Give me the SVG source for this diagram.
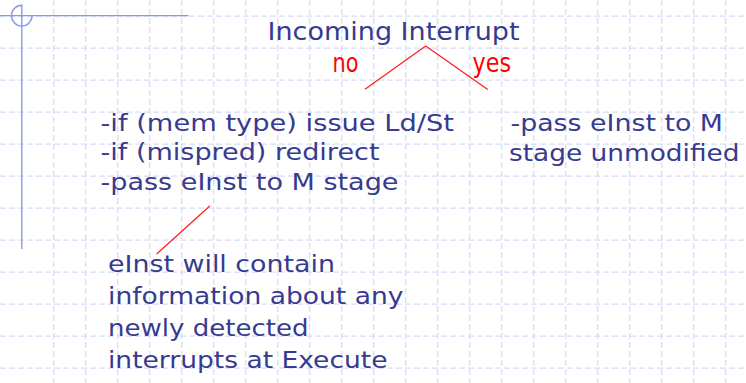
<svg xmlns="http://www.w3.org/2000/svg" width="746" height="383" viewBox="0 0 746 383">
  <defs>
    <style>
      .grid line { stroke: #d6ddf9; stroke-width: 1.3; stroke-dasharray: 6 3; }
      .frame { stroke: #8798ef; stroke-width: 1.4; fill: none; }
      .body { font-family: "DejaVu Sans", Verdana, sans-serif; font-size: 23.5px; fill: #363b8f; }
      .title { font-size: 24px; }
      .tag { font-family: "DejaVu Sans", "Comic Sans MS", sans-serif; font-size: 26.5px; fill: #ff0000; }
      .connectors line { stroke: #ff1a1a; stroke-width: 1.2; }
    </style>
  </defs>

  <rect width="746" height="383" fill="#ffffff"/>

  <!-- background grid -->
  <g class="grid">
    <line x1="0" y1="16.2" x2="746" y2="16.2"/>
    <line x1="0" y1="48.2" x2="746" y2="48.2"/>
    <line x1="0" y1="80.2" x2="746" y2="80.2"/>
    <line x1="0" y1="112.2" x2="746" y2="112.2"/>
    <line x1="0" y1="144.2" x2="746" y2="144.2"/>
    <line x1="0" y1="176.2" x2="746" y2="176.2"/>
    <line x1="0" y1="208.2" x2="746" y2="208.2"/>
    <line x1="0" y1="240.2" x2="746" y2="240.2"/>
    <line x1="0" y1="272.2" x2="746" y2="272.2"/>
    <line x1="0" y1="304.2" x2="746" y2="304.2"/>
    <line x1="0" y1="336.2" x2="746" y2="336.2"/>
    <line x1="0" y1="368.2" x2="746" y2="368.2"/>
    <line x1="53.7" y1="0" x2="53.7" y2="383"/>
    <line x1="85.7" y1="0" x2="85.7" y2="383"/>
    <line x1="117.7" y1="0" x2="117.7" y2="383"/>
    <line x1="149.7" y1="0" x2="149.7" y2="383"/>
    <line x1="181.7" y1="0" x2="181.7" y2="383"/>
    <line x1="213.7" y1="0" x2="213.7" y2="383"/>
    <line x1="245.7" y1="0" x2="245.7" y2="383"/>
    <line x1="277.7" y1="0" x2="277.7" y2="383"/>
    <line x1="309.7" y1="0" x2="309.7" y2="383"/>
    <line x1="341.7" y1="0" x2="341.7" y2="383"/>
    <line x1="373.7" y1="0" x2="373.7" y2="383"/>
    <line x1="405.7" y1="0" x2="405.7" y2="383"/>
    <line x1="437.7" y1="0" x2="437.7" y2="383"/>
    <line x1="469.7" y1="0" x2="469.7" y2="383"/>
    <line x1="501.7" y1="0" x2="501.7" y2="383"/>
    <line x1="533.7" y1="0" x2="533.7" y2="383"/>
    <line x1="565.7" y1="0" x2="565.7" y2="383"/>
    <line x1="597.7" y1="0" x2="597.7" y2="383"/>
    <line x1="629.7" y1="0" x2="629.7" y2="383"/>
    <line x1="661.7" y1="0" x2="661.7" y2="383"/>
    <line x1="693.7" y1="0" x2="693.7" y2="383"/>
    <line x1="725.7" y1="0" x2="725.7" y2="383"/>
  </g>

  <!-- corner crosshair frame -->
  <g id="frame">
    <line class="frame" x1="0" y1="15.6" x2="188.5" y2="15.6"/>
    <line class="frame" x1="21.8" y1="4.5" x2="21.8" y2="249"/>
    <path class="frame" d="M21.8,5.3 A10.3,10.3 0 1,0 32.1,15.6"/>
  </g>

  <!-- connectors -->
  <g class="connectors">
    <line x1="425.7" y1="46" x2="365" y2="89.3"/>
    <line x1="425.7" y1="46" x2="487.7" y2="89.6"/>
    <line x1="210" y1="205.7" x2="156.7" y2="254"/>
  </g>

  <g id="incoming-interrupt">
    <text class="body title" x="267.5" y="39.5" textLength="252" lengthAdjust="spacingAndGlyphs">Incoming Interrupt</text>
  </g>

  <g id="label-no">
    <text class="tag" x="332.5" y="71.5" textLength="26" lengthAdjust="spacingAndGlyphs">no</text>
  </g>

  <g id="label-yes">
    <text class="tag" x="472.5" y="71.5" textLength="38.5" lengthAdjust="spacingAndGlyphs">yes</text>
  </g>

  <g id="no-branch">
    <text class="body" x="100.5" y="130.5" textLength="353.5" lengthAdjust="spacingAndGlyphs">-if (mem type) issue Ld/St</text>
    <text class="body" x="100.5" y="160" textLength="279" lengthAdjust="spacingAndGlyphs">-if (mispred) redirect</text>
    <text class="body" x="100.5" y="189.5" textLength="298" lengthAdjust="spacingAndGlyphs">-pass eInst to M stage</text>
  </g>

  <g id="yes-branch">
    <text class="body" x="510.5" y="131" textLength="212.5" lengthAdjust="spacingAndGlyphs">-pass eInst to M</text>
    <text class="body" x="509" y="160.5" textLength="230.5" lengthAdjust="spacingAndGlyphs">stage unmodified</text>
  </g>

  <g id="einst-note">
    <text class="body" x="108" y="272" textLength="227" lengthAdjust="spacingAndGlyphs">eInst will contain</text>
    <text class="body" x="108" y="304" textLength="295.5" lengthAdjust="spacingAndGlyphs">information about any</text>
    <text class="body" x="108" y="336" textLength="200.5" lengthAdjust="spacingAndGlyphs">newly detected</text>
    <text class="body" x="108" y="367.5" textLength="279.5" lengthAdjust="spacingAndGlyphs">interrupts at Execute</text>
  </g>
</svg>
